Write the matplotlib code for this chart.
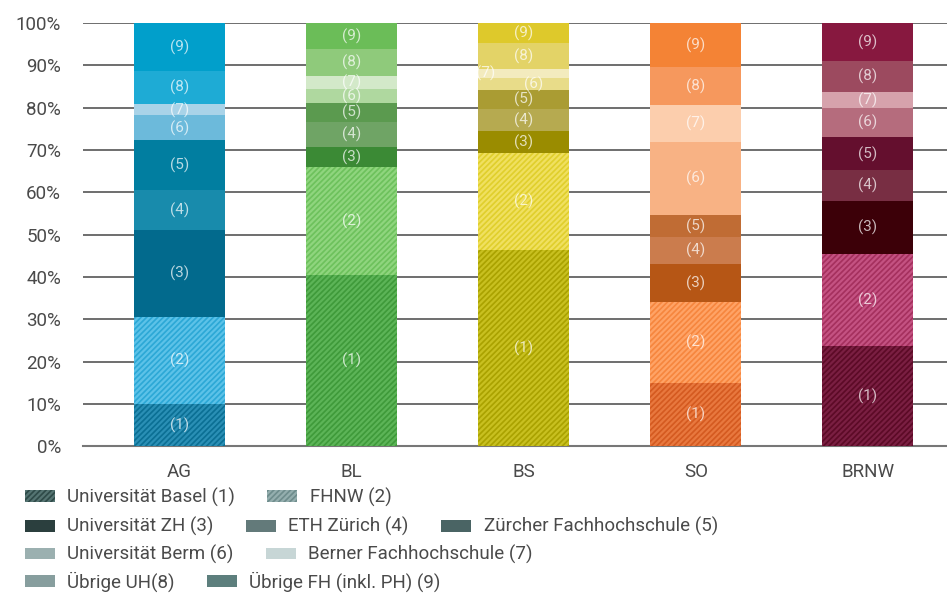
import numpy as np
import matplotlib.pyplot as plt
from matplotlib.patches import Patch

plt.rcParams['font.family'] = ['Roboto', 'DejaVu Sans']
plt.rcParams['hatch.linewidth'] = 1.6

# Kantone / Regionen
regions = ["AG", "BL", "BS", "SO", "BRNW"]

# Anteile (%) je Hochschule (1)..(9), von unten nach oben
seg1 = [10.0, 40.4, 46.3, 14.9, 23.6]
seg2 = [20.5, 25.6, 23.0, 19.1, 21.8]
seg3 = [20.6, 4.7, 5.2, 9.0, 12.5]
seg4 = [9.4, 5.9, 5.2, 6.4, 7.3]
seg5 = [11.8, 4.5, 4.5, 5.2, 7.8]
seg6 = [5.9, 3.3, 2.8, 17.3, 6.9]
seg7 = [2.6, 3.1, 2.1, 8.7, 3.8]
seg8 = [7.9, 6.4, 6.2, 9.0, 7.3]
seg9 = [11.3, 6.1, 4.7, 10.4, 9.0]
segments = [seg1, seg2, seg3, seg4, seg5, seg6, seg7, seg8, seg9]
seg_labels = ["(1)", "(2)", "(3)", "(4)", "(5)", "(6)", "(7)", "(8)", "(9)"]

# Farben je Region (Segment 1..9)
colors = {
    "AG":   ["#0b6f94", "#2ca8d6", "#026a8d", "#188bac", "#017ea0", "#6cbadb", "#a9d3e8", "#1eabd5", "#019fcb"],
    "BL":   ["#3f9a3a", "#6dc15c", "#3b8a35", "#6fa465", "#5b9a4f", "#afd89f", "#d3e9c9", "#8fca7b", "#6bbd58"],
    "BS":   ["#aaa200", "#e0cf2c", "#9a8c00", "#b6aa50", "#aa9c33", "#e8dc89", "#f3ebbe", "#e3d367", "#dec92b"],
    "SO":   ["#d45a20", "#f6863e", "#b65615", "#cb7c4d", "#c06c34", "#f8b284", "#fccead", "#f6985d", "#f48335"],
    "BRNW": ["#5c0a26", "#a5305e", "#3c0008", "#782e43", "#640f2e", "#b56c7d", "#d6a2ac", "#9c4a5f", "#87183f"],
}
hatch_colors = {
    "AG":   ["#2a8fb5", "#5cc2e8"],
    "BL":   ["#5cb457", "#8fd57e"],
    "BS":   ["#c8c020", "#f0e060"],
    "SO":   ["#e8783e", "#ffa366"],
    "BRNW": ["#7a1f42", "#c45282"],
}

legend_names = ["Universität Basel (1)", "FHNW (2)", "Universität ZH (3)", "ETH Zürich (4)",
                "Zürcher Fachhochschule (5)", "Universität Berm (6)", "Berner Fachhochschule (7)",
                "Übrige UH(8)", "Übrige FH (inkl. PH) (9)"]
legend_colors = ["#2e4a48", "#6e8c8c", "#2b3f3e", "#637a7a", "#4a6464",
                 "#9bb0b0", "#c7d6d6", "#879e9e", "#5d7f7d"]
legend_hatch = ["#557472", "#94aeae"]

fig = plt.figure(figsize=(9.47, 5.94), dpi=100)
ax = fig.add_axes([0.088, 0.249, 0.912, 0.712])

x = np.arange(len(regions))
width = 0.53
bottom = np.zeros(len(regions))
for i, seg in enumerate(segments):
    vals = np.array(seg)
    for j, r in enumerate(regions):
        c = colors[r][i]
        if i < 2:
            ax.bar(x[j], vals[j], width, bottom=bottom[j], color=c,
                   edgecolor=hatch_colors[r][i], linewidth=0, hatch="//////", zorder=3)
        else:
            ax.bar(x[j], vals[j], width, bottom=bottom[j], color=c, linewidth=0, zorder=3)
        dx = 0
        if r == "BS" and i == 6:
            dx = -0.22
        if r == "BS" and i == 5:
            dx = 0.06
        ax.text(x[j] + dx, bottom[j] + vals[j] / 2, seg_labels[i], ha="center", va="center",
                color="white", alpha=0.72, fontsize=11, zorder=4)
    bottom += vals

ax.set_ylim(0, 100)
ax.set_xlim(-0.56, 4.46)
ax.set_yticks(np.arange(0, 101, 10))
ax.set_yticklabels([f"{v}%" for v in range(0, 101, 10)])
ax.set_xticks(x)
ax.set_xticklabels(regions)
ax.grid(axis="y", color="#555555", linewidth=1.2, zorder=0)
for s in ["top", "right", "left"]:
    ax.spines[s].set_visible(False)
ax.spines["bottom"].set_color("#777777")
ax.spines["bottom"].set_linewidth(1.5)
ax.tick_params(axis="both", length=0, labelsize=13.5, colors="#4a4a4a")
ax.tick_params(axis="x", pad=12)
ax.tick_params(axis="y", pad=16)

handles = []
for k, name in enumerate(legend_names):
    if k < 2:
        handles.append(Patch(facecolor=legend_colors[k], edgecolor=legend_hatch[k],
                             hatch="//////", linewidth=0, label=name))
    else:
        handles.append(Patch(facecolor=legend_colors[k], linewidth=0, label=name))

rows = [[0, 1], [2, 3, 4], [5, 6], [7, 8]]
row_y = [0.163, 0.113, 0.066, 0.020]
for idx, yy in zip(rows, row_y):
    leg = fig.legend([handles[k] for k in idx], [legend_names[k] for k in idx],
                     loc="center left", bbox_to_anchor=(0.026, yy), ncol=len(idx),
                     frameon=False, fontsize=13.5, handlelength=1.6, handleheight=0.6,
                     handletextpad=0.65, columnspacing=1.75, borderpad=0, borderaxespad=0)
    for t in leg.get_texts():
        t.set_color("#4a4a4a")

fig.savefig("out.png", dpi=100)
